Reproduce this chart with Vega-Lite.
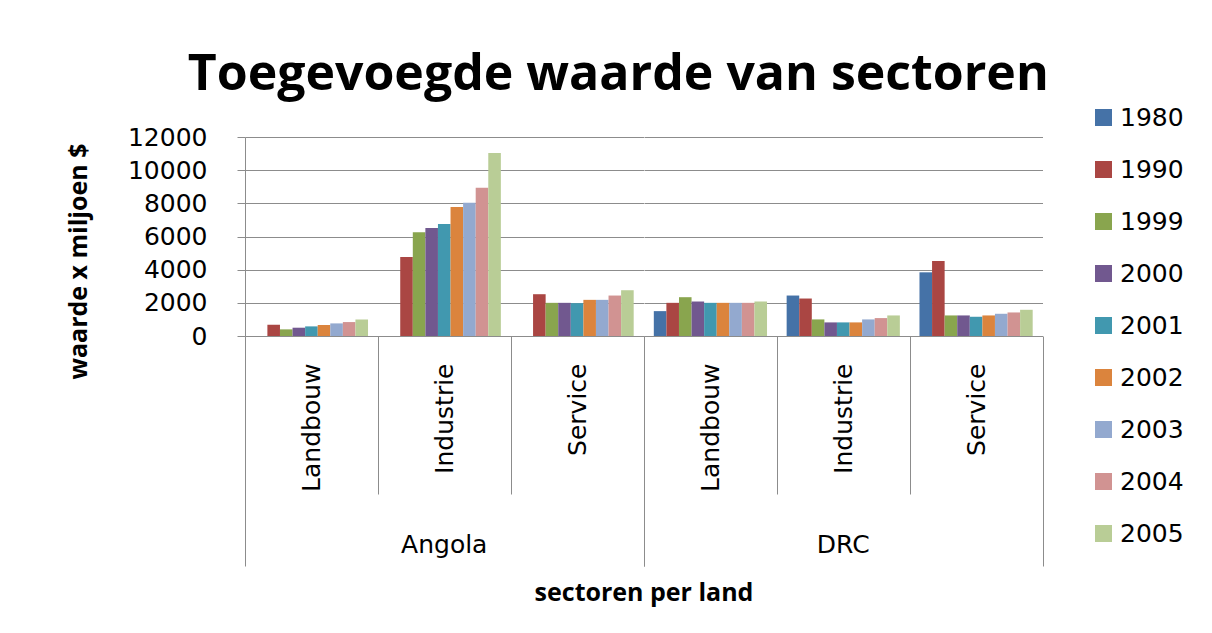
{
  "$schema": "https://vega.github.io/schema/vega-lite/v6.json",
  "padding": {"left": 66, "top": 50, "right": 5, "bottom": 5},
  "background": "white",
  "title": {"text": "Toegevoegde waarde van sectoren", "font": "Open Sans", "fontSize": 50, "fontWeight": "bold", "color": "black", "anchor": "middle", "dx": -7, "offset": 5},
  "data": {"values": [
    {"country": "Angola", "sector": "Landbouw", "year": "1990", "value": 680},
    {"country": "Angola", "sector": "Landbouw", "year": "1999", "value": 400},
    {"country": "Angola", "sector": "Landbouw", "year": "2000", "value": 500},
    {"country": "Angola", "sector": "Landbouw", "year": "2001", "value": 580},
    {"country": "Angola", "sector": "Landbouw", "year": "2002", "value": 660},
    {"country": "Angola", "sector": "Landbouw", "year": "2003", "value": 760},
    {"country": "Angola", "sector": "Landbouw", "year": "2004", "value": 840},
    {"country": "Angola", "sector": "Landbouw", "year": "2005", "value": 1000},
    {"country": "Angola", "sector": "Industrie", "year": "1990", "value": 4760},
    {"country": "Angola", "sector": "Industrie", "year": "1999", "value": 6260},
    {"country": "Angola", "sector": "Industrie", "year": "2000", "value": 6520},
    {"country": "Angola", "sector": "Industrie", "year": "2001", "value": 6760},
    {"country": "Angola", "sector": "Industrie", "year": "2002", "value": 7780},
    {"country": "Angola", "sector": "Industrie", "year": "2003", "value": 8040},
    {"country": "Angola", "sector": "Industrie", "year": "2004", "value": 8940},
    {"country": "Angola", "sector": "Industrie", "year": "2005", "value": 11040},
    {"country": "Angola", "sector": "Service", "year": "1990", "value": 2520},
    {"country": "Angola", "sector": "Service", "year": "1999", "value": 2000},
    {"country": "Angola", "sector": "Service", "year": "2000", "value": 2000},
    {"country": "Angola", "sector": "Service", "year": "2001", "value": 1980},
    {"country": "Angola", "sector": "Service", "year": "2002", "value": 2180},
    {"country": "Angola", "sector": "Service", "year": "2003", "value": 2180},
    {"country": "Angola", "sector": "Service", "year": "2004", "value": 2440},
    {"country": "Angola", "sector": "Service", "year": "2005", "value": 2760},
    {"country": "DRC", "sector": "Landbouw", "year": "1980", "value": 1500},
    {"country": "DRC", "sector": "Landbouw", "year": "1990", "value": 2000},
    {"country": "DRC", "sector": "Landbouw", "year": "1999", "value": 2340},
    {"country": "DRC", "sector": "Landbouw", "year": "2000", "value": 2080},
    {"country": "DRC", "sector": "Landbouw", "year": "2001", "value": 2000},
    {"country": "DRC", "sector": "Landbouw", "year": "2002", "value": 2000},
    {"country": "DRC", "sector": "Landbouw", "year": "2003", "value": 2000},
    {"country": "DRC", "sector": "Landbouw", "year": "2004", "value": 2000},
    {"country": "DRC", "sector": "Landbouw", "year": "2005", "value": 2080},
    {"country": "DRC", "sector": "Industrie", "year": "1980", "value": 2440},
    {"country": "DRC", "sector": "Industrie", "year": "1990", "value": 2260},
    {"country": "DRC", "sector": "Industrie", "year": "1999", "value": 1000},
    {"country": "DRC", "sector": "Industrie", "year": "2000", "value": 820},
    {"country": "DRC", "sector": "Industrie", "year": "2001", "value": 820},
    {"country": "DRC", "sector": "Industrie", "year": "2002", "value": 820},
    {"country": "DRC", "sector": "Industrie", "year": "2003", "value": 1000},
    {"country": "DRC", "sector": "Industrie", "year": "2004", "value": 1080},
    {"country": "DRC", "sector": "Industrie", "year": "2005", "value": 1240},
    {"country": "DRC", "sector": "Service", "year": "1980", "value": 3840},
    {"country": "DRC", "sector": "Service", "year": "1990", "value": 4520},
    {"country": "DRC", "sector": "Service", "year": "1999", "value": 1240},
    {"country": "DRC", "sector": "Service", "year": "2000", "value": 1240},
    {"country": "DRC", "sector": "Service", "year": "2001", "value": 1160},
    {"country": "DRC", "sector": "Service", "year": "2002", "value": 1240},
    {"country": "DRC", "sector": "Service", "year": "2003", "value": 1340},
    {"country": "DRC", "sector": "Service", "year": "2004", "value": 1420},
    {"country": "DRC", "sector": "Service", "year": "2005", "value": 1580}
  ]},
  "facet": {"column": {"field": "country", "type": "nominal", "sort": ["Angola", "DRC"],
    "header": {"labelOrient": "bottom", "labelPadding": -34, "labelFont": "DejaVu Sans", "labelFontSize": 25, "labelColor": "black", "labelBaseline": "top",
      "title": "sectoren per land", "titleOrient": "bottom", "titleFont": "Open Sans", "titleFontSize": 25, "titleFontWeight": "bold", "titleColor": "black", "titlePadding": 4}}},
  "spacing": 0,
  "spec": {
    "width": 398.5,
    "height": 199,
    "mark": {"type": "bar"},
    "encoding": {
      "x": {"field": "sector", "type": "nominal", "sort": ["Landbouw", "Industrie", "Service"],
        "scale": {"paddingInner": 0, "paddingOuter": 0},
        "axis": {"title": null, "domain": true, "domainColor": "#8c8c8c", "ticks": true, "tickBand": "extent",
          "tickSize": {"condition": {"test": "datum.value === 'Service' || datum.index < 0", "value": 230}, "value": 158},
          "tickColor": "#8c8c8c", "labelAngle": -90, "labelAlign": "right", "labelBaseline": "middle",
          "labelPadding": {"condition": {"test": "datum.value === 'Service'", "value": -203}, "value": -131},
          "labelFont": "DejaVu Sans", "labelFontSize": 25, "labelColor": "black", "labelOverlap": false, "grid": false}},
      "xOffset": {"field": "year", "type": "nominal",
        "scale": {"domain": ["1980", "1990", "1999", "2000", "2001", "2002", "2003", "2004", "2005"], "paddingInner": 0, "paddingOuter": 0.78}},
      "y": {"field": "value", "type": "quantitative",
        "scale": {"domain": [0, 12000], "nice": false},
        "axis": {"title": "waarde x miljoen $", "titleFont": "Open Sans", "titleFontSize": 25, "titleFontWeight": "bold", "titleColor": "black", "titlePadding": 36, "titleY": 124,
          "values": [0, 2000, 4000, 6000, 8000, 10000, 12000], "format": "d",
          "labelFont": "DejaVu Sans", "labelFontSize": 25, "labelColor": "black", "labelPadding": 30,
          "domainColor": "#8c8c8c", "tickColor": "#8c8c8c", "tickSize": 8, "grid": true, "gridColor": "#8c8c8c"}},
      "color": {"field": "year", "type": "nominal",
        "scale": {"domain": ["1980", "1990", "1999", "2000", "2001", "2002", "2003", "2004", "2005"],
          "range": ["#4572A7", "#AA4643", "#89A54E", "#71588F", "#4198AF", "#DB843D", "#93A9CF", "#D19392", "#B9CD96"]},
        "legend": {"title": null, "orient": "none", "legendX": 846, "legendY": -32, "symbolType": "square", "symbolSize": 289, "symbolStrokeWidth": 0, "labelFont": "DejaVu Sans", "labelFontSize": 25, "labelColor": "black", "rowPadding": 26, "labelOffset": 4}}
    }
  },
  "config": {"view": {"stroke": null}}
}
